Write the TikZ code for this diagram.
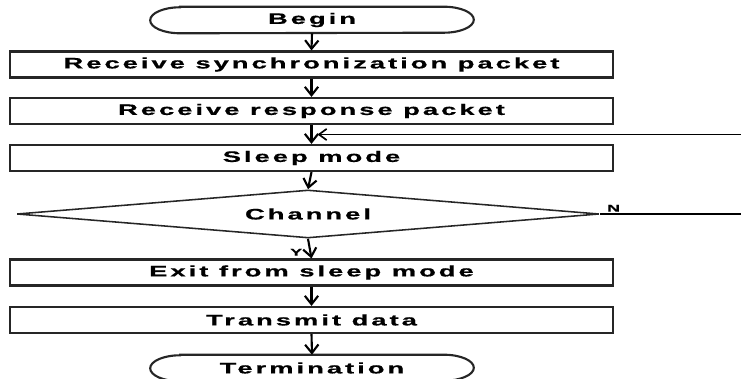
\documentclass[tikz,border=0pt]{standalone}
\usepackage{fontspec}
\setmainfont{Liberation Sans}[LetterSpace=11, BoldFeatures={FakeBold=0.6}]
\usepackage{graphicx}
\usepackage{tikz}
\usetikzlibrary{positioning,calc,shapes.geometric,arrows.meta}

% the diagram's wide lettering
\newcommand{\widetxt}[1]{\scalebox{1.8}[1]{#1}}

\tikzset{
	box/.style={line width=1.5pt, draw=black!85},
	txt/.style={font=\bfseries\fontsize{10.8}{12}\selectfont, inner sep=0pt},
	process/.style={rectangle, box, txt, minimum width=15.05cm, minimum height=0.65cm},
	terminal/.style={rectangle, txt, minimum width=8.075cm, minimum height=0.65cm},
	decision/.style={diamond, box, line width=1.1pt, txt, aspect=12, minimum width=14.55cm, minimum height=1.2cm},
	flow/.style={line width=1.5pt, -{Straight Barb[length=6pt,width=9.5pt,line width=1.5pt]}},
	fb/.style={line width=1.2pt, -{Straight Barb[length=5.5pt,width=8pt,line width=1.2pt]}},
	lbl/.style={font=\bfseries\fontsize{7}{8}\selectfont, inner sep=0pt}
}

\begin{document}
\begin{tikzpicture}[x=0.025cm, y=-0.025cm]
		\useasboundingbox (0,0) rectangle (741,379);
		\clip (0,0) rectangle (741,379);
		
		\node [terminal] (begin) at (312,20) {\widetxt{Begin}};
		\node [process] (sync) at (311.5,64.5) {\widetxt{Receive synchronization packet}};
		\node [process] (resp) at (311.5,111) {\widetxt{Receive response packet}};
		\node [process] (sleep) at (311.5,158) {\widetxt{Sleep mode}};
		\node [decision] (chan) at (308,214) {\widetxt{Channel}};
		\node [process] (exit) at (311.5,272.5) {\widetxt{Exit from sleep mode}};
		\node [process] (send) at (311.5,320) {\widetxt{Transmit data}};
		\node [terminal] (term) at (312,368) {\widetxt{Termination}};
		
		% rounded ends of the two terminals
		\foreach \t in {begin,term}
			\draw[box] ([xshift=0.75cm]\t.north west) -- ([xshift=-0.75cm]\t.north east)
				arc[start angle=90, end angle=-90, x radius=0.75cm, y radius=0.325cm]
				-- ([xshift=0.75cm]\t.south west)
				arc[start angle=270, end angle=90, x radius=0.75cm, y radius=0.325cm] -- cycle;
		
		\node [lbl, anchor=south west] (no) at ([xshift=5pt,yshift=1.5pt]chan.east) {\widetxt{N}};
		\node [lbl, anchor=north east] (yes) at ([xshift=-4pt,yshift=-7pt]chan.south) {\widetxt{Y}};
		
		\coordinate (loop) at ($(resp.south)!0.5!(sleep.north)+(6,0)$);
		
		\draw[flow] (begin.south) -- (sync.north);
		\draw[flow] (sync.south) -- (resp.north);
		\draw[flow] (resp.south) -- (sleep.north);
		\draw[flow] (sleep.south) -- (chan.north);
		\draw[flow] (chan.south) -- (exit.north);
		\draw[flow] (exit.south) -- (send.north);
		\draw[flow] (send.south) -- (term.north);
		\draw[fb] (chan.east) -- ++(220,0) |- (loop);
	\end{tikzpicture}
\end{document}
